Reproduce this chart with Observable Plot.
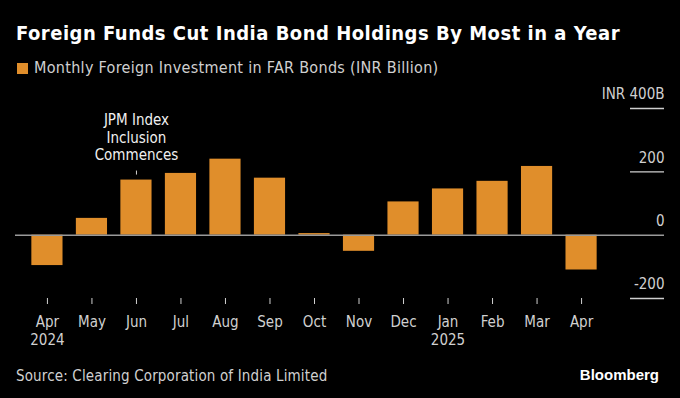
<!DOCTYPE html>
<html>
<head>
<meta charset="utf-8">
<script src="https://cdn.jsdelivr.net/npm/d3@7"></script>
<script src="https://cdn.jsdelivr.net/npm/@observablehq/plot@0.6"></script>
<style>
  html, body { margin: 0; padding: 0; background: #000; }
  body { width: 680px; height: 398px; position: relative; overflow: hidden;
         font-family: "DejaVu Sans", sans-serif; font-stretch: condensed; }
  #title { position: absolute; left: 16px; top: 20px; color: #fff; font-size: 20px; font-weight: bold; white-space: nowrap; line-height: 26px; letter-spacing: 0.5px; }
  #legend { position: absolute; left: 17px; top: 58px; color: #d0d0d0; font-size: 16px; white-space: nowrap; line-height: 20px; display: flex; align-items: center; letter-spacing: 0.3px; }
  #legend .sw { display: inline-block; width: 11px; height: 11px; background: #e08e2b; margin-right: 6px; }
  #chart { position: absolute; left: 0; top: 80px; }
  #source { position: absolute; left: 16px; top: 366px; color: #d0d0d0; font-size: 15px; white-space: nowrap; line-height: 20px; letter-spacing: 0.15px; }
  #brand { position: absolute; right: 21px; top: 365px; color: #fff; font-size: 15px; font-weight: bold; white-space: nowrap; line-height: 20px; font-family: "Liberation Sans", sans-serif; font-stretch: normal; }
</style>
</head>
<body>
<div id="title">Foreign Funds Cut India Bond Holdings By Most in a Year</div>
<div id="legend"><span class="sw"></span>Monthly Foreign Investment in FAR Bonds (INR Billion)</div>
<div id="chart"></div>
<div id="source">Source: Clearing Corporation of India Limited</div>
<div id="brand">Bloomberg</div>
<script>
const months = ["Apr", "May", "Jun", "Jul", "Aug", "Sep", "Oct", "Nov", "Dec", "Jan", "Feb", "Mar", "Apr"];
const years  = ["2024", "", "", "", "", "", "", "", "", "2025", "", "", ""];
const values = [-96, 53, 174, 195, 240, 180, 5, -51, 105, 146, 170, 217, -110];
const yTicks = [400, 200, 0, -200];
const yTickLabels = ["INR 400B", "200", "0", "-200"];
const annotationText = "JPM Index\nInclusion\nCommences";
const annotationIndex = 2;

const keys = months.map((m, i) => i);
const data = keys.map(i => ({key: i, value: values[i]}));
const xLabel = i => years[i] ? months[i] + "\n" + years[i] : months[i];
const yLabel = v => yTickLabels[yTicks.indexOf(v)];
const annot = [data[annotationIndex]];

const orange = "#e08e2b";

const chart = Plot.plot({
  width: 680,
  height: 270,
  marginLeft: 18,
  marginRight: 70,
  marginTop: 28,
  marginBottom: 52,
  style: {background: "transparent", color: "#d0d0d0", fontFamily: "DejaVu Sans, sans-serif", fontSize: "15px", fontStretch: "condensed"},
  x: {type: "band", domain: keys, padding: 0.3, round: false},
  y: {domain: [-200, 400]},
  marks: [
    Plot.barY(data, {x: "key", y: "value", fill: orange}),
    Plot.ruleY([0], {stroke: "#9a9a9a", strokeWidth: 1.5, insetLeft: -3, insetRight: -54}),
    Plot.ruleY(yTicks.filter(v => v !== 0), {stroke: "#cfcfcf", strokeWidth: 1.3, insetLeft: 612, insetRight: -54}),
    Plot.axisY({anchor: "right", ticks: yTicks, tickSize: 0, tickPadding: 0, dx: 54, dy: -14, textAnchor: "end", tickFormat: yLabel, fill: "#d0d0d0", fontSize: 15, label: null}),
    Plot.axisX({anchor: "bottom", tickSize: 6, tickPadding: 9, tickFormat: xLabel, stroke: "#d0d0d0", fill: "#d0d0d0", fontSize: 15, lineHeight: 1.22, label: null}),
    Plot.text(annot, {x: "key", y: "value", text: () => annotationText, dy: -20, lineAnchor: "bottom", lineHeight: 1.17, fill: "#f0f0f0", fontSize: 15}),
    Plot.ruleX(annot, {x: "key", y1: "value", y2: "value", insetTop: -9, insetBottom: 5, stroke: "#d0d0d0"})
  ]
});
document.getElementById("chart").appendChild(chart);
</script>
</body>
</html>
